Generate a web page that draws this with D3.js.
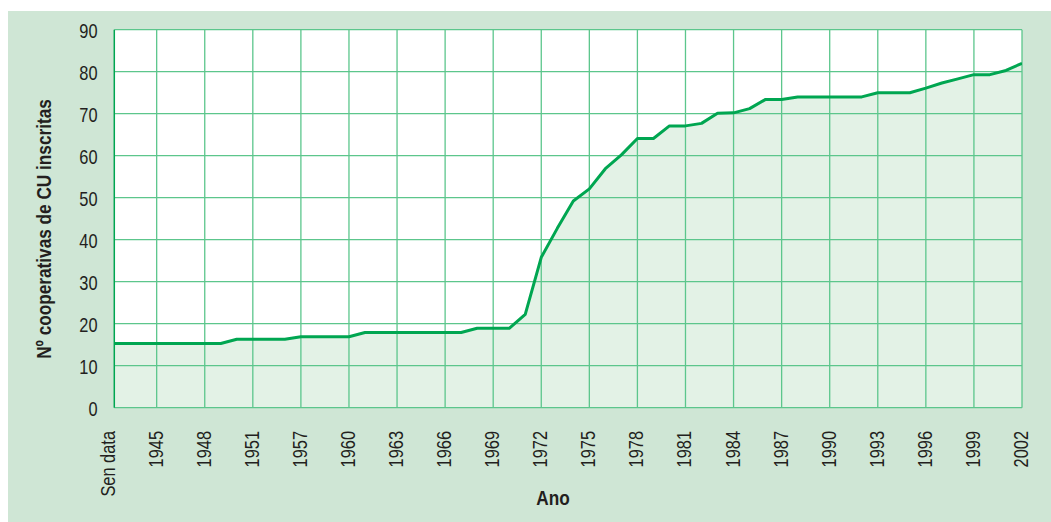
<!DOCTYPE html>
<html>
<head>
<meta charset="utf-8">
<script src="https://cdn.jsdelivr.net/npm/d3@7"></script>
<style>
  body { margin: 0; background: #fff; }
  text { font-family: "Liberation Sans", Arial, sans-serif; fill: #231f20; }
</style>
</head>
<body>
<script>
// categories (only every 3rd one gets a label)
var categories = ["Sen data", "1943", "1944", "1945", "1946", "1947", "1948", "1949", "1950", "1951",
    "1953", "1955", "1957", "1958", "1959", "1960", "1961", "1962", "1963", "1964", "1965", "1966",
    "1967", "1968", "1969", "1970", "1971", "1972", "1973", "1974", "1975", "1976", "1977", "1978",
    "1979", "1980", "1981", "1982", "1983", "1984", "1985", "1986", "1987", "1988", "1989", "1990",
    "1991", "1992", "1993", "1994", "1995", "1996", "1997", "1998", "1999", "2000", "2001", "2002"];

var values = [15.3, 15.3, 15.3, 15.3, 15.3, 15.3, 15.3, 15.3, 16.3, 16.3,
    16.3, 16.3, 16.9, 16.9, 16.9, 16.9, 17.9, 17.9, 17.9, 17.9, 17.9, 17.9,
    17.9, 18.9, 18.9, 18.9, 22.2, 35.8, 42.7, 49.2, 52.1, 56.9, 60.2, 64.1,
    64.1, 67.1, 67.1, 67.7, 70.1, 70.2, 71.2, 73.4, 73.4, 74, 74, 74,
    74, 74, 75, 75, 75, 76.1, 77.3, 78.3, 79.3, 79.3, 80.3, 82];

var tickLabels = ["Sen data", "1945", "1948", "1951", "1957", "1960", "1963", "1966", "1969", "1972",
    "1975", "1978", "1981", "1984", "1987", "1990", "1993", "1996", "1999", "2002"];

var yTicks = [0, 10, 20, 30, 40, 50, 60, 70, 80, 90];

//Width and height
var W = 1051, H = 522;
var plotL = 114.3, plotR = 1022, plotT = 29.7, plotB = 407.7;
var narrow = " scale(0.82,1)"; // squeeze the sans into a condensed look

var svg = d3.select("body")
    .append("svg")
    .attr("width", W)
    .attr("height", H);

// green panel behind the chart
svg.append("rect")
    .attr("x", 8)
    .attr("y", 11)
    .attr("width", W - 8)
    .attr("height", H - 11)
    .attr("fill", "#cfe6d5");

// first category sits a bit left of the y axis in the original
var x = d3.scalePoint()
    .domain(categories)
    .range([108.6, plotR]);

var y = d3.scaleLinear()
    .domain([0, 90])
    .range([plotB, plotT]);

svg.append("rect")
    .attr("x", plotL)
    .attr("y", plotT)
    .attr("width", plotR - plotL)
    .attr("height", plotB - plotT)
    .attr("fill", "#fff");

svg.append("clipPath")
    .attr("id", "plot")
    .append("rect")
    .attr("x", plotL)
    .attr("y", plotT - 5)
    .attr("width", plotR - plotL)
    .attr("height", plotB - plotT + 5);

var area = d3.area()
    .x(function (d, i) { return x(categories[i]); })
    .y0(y(0))
    .y1(function (d) { return y(d); });

var line = d3.line()
    .x(function (d, i) { return x(categories[i]); })
    .y(function (d) { return y(d); });

svg.append("path")
    .datum(values)
    .attr("clip-path", "url(#plot)")
    .attr("d", area)
    .attr("fill", "#e3f2e6");

// grid
svg.append("g")
    .selectAll("line")
    .data(tickLabels.filter(function (d) { return x(d) > plotL + 1; }))
    .enter()
    .append("line")
    .attr("x1", function (d) { return x(d); })
    .attr("x2", function (d) { return x(d); })
    .attr("y1", plotT)
    .attr("y2", plotB)
    .attr("stroke", "#5cc68c")
    .attr("stroke-width", 1.3);

svg.append("g")
    .selectAll("line")
    .data(yTicks)
    .enter()
    .append("line")
    .attr("x1", plotL)
    .attr("x2", plotR)
    .attr("y1", function (d) { return y(d); })
    .attr("y2", function (d) { return y(d); })
    .attr("stroke", "#5cc68c")
    .attr("stroke-width", 1.3);

// y axis line
svg.append("line")
    .attr("x1", plotL)
    .attr("x2", plotL)
    .attr("y1", plotT)
    .attr("y2", plotB)
    .attr("stroke", "#00a651")
    .attr("stroke-width", 1.5);

svg.append("path")
    .datum(values)
    .attr("clip-path", "url(#plot)")
    .attr("d", line)
    .attr("fill", "none")
    .attr("stroke", "#00a651")
    .attr("stroke-width", 3)
    .attr("stroke-linejoin", "round");

// y tick labels
svg.append("g")
    .selectAll("text")
    .data(yTicks)
    .enter()
    .append("text")
    .attr("transform", function (d) {
        return "translate(97.5," + y(d) + ")" + narrow;
    })
    .attr("dy", "0.42em")
    .attr("text-anchor", "end")
    .attr("font-size", "20px")
    .text(function (d) { return d; });

// x tick labels, rotated
svg.append("g")
    .selectAll("text")
    .data(tickLabels)
    .enter()
    .append("text")
    .attr("transform", function (d) {
        return "translate(" + (x(d) - 1) + ",431) rotate(-90)" + narrow;
    })
    .attr("dy", "0.35em")
    .attr("text-anchor", "end")
    .attr("font-size", "20px")
    .text(function (d) { return d; });

svg.append("text")
    .attr("transform", "translate(553,505)" + narrow)
    .attr("text-anchor", "middle")
    .attr("font-size", "21px")
    .attr("font-weight", "bold")
    .text("Ano");

svg.append("text")
    .attr("transform", "translate(51,229) rotate(-90)" + narrow)
    .attr("text-anchor", "middle")
    .attr("font-size", "21px")
    .attr("font-weight", "bold")
    .text("Nº cooperativas de CU inscritas");
</script>
</body>
</html>
